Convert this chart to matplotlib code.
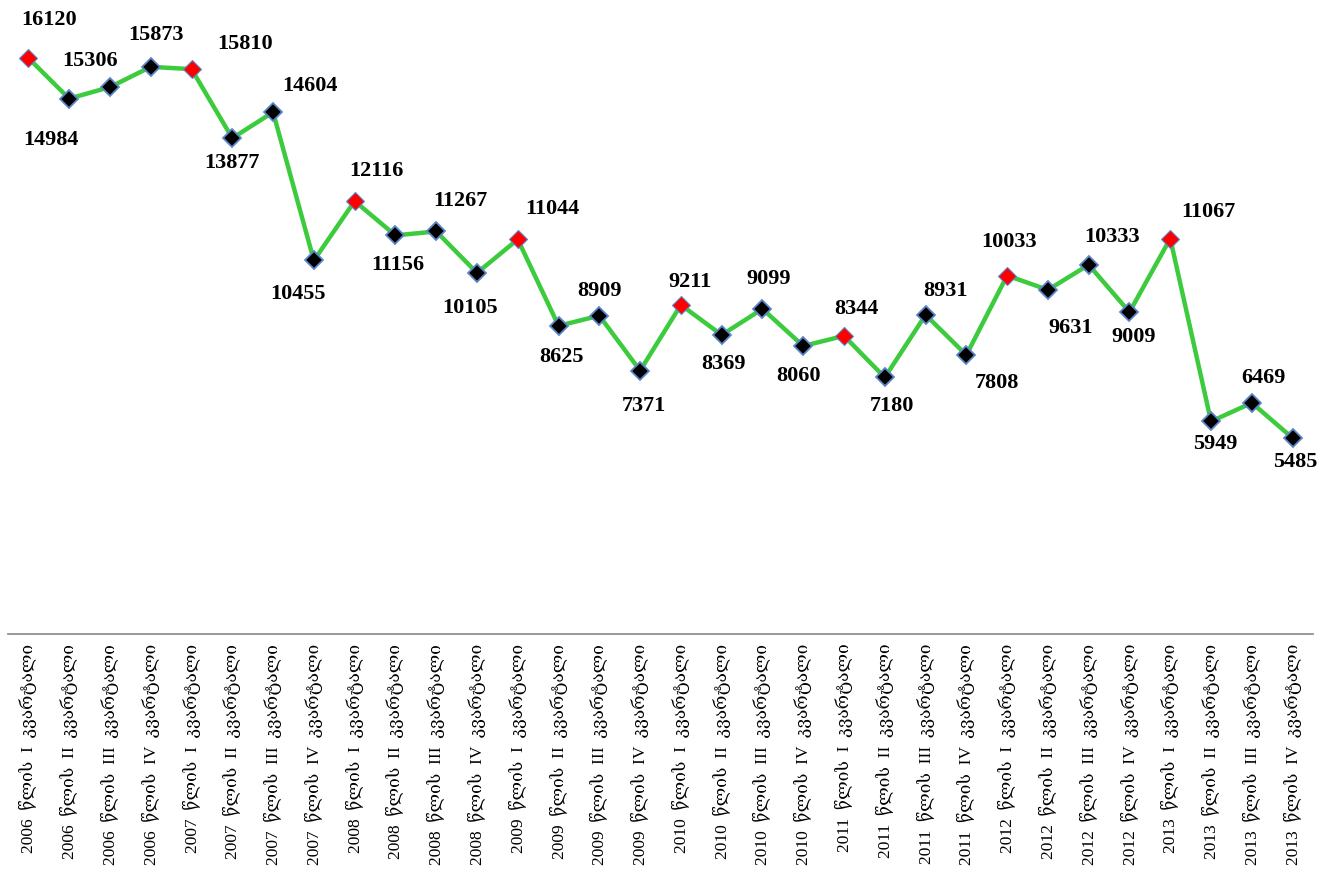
import matplotlib
matplotlib.use("Agg")
import matplotlib.pyplot as plt

years = ["2006", "2007", "2008", "2009", "2010", "2011", "2012", "2013"]
quarters = ["I", "II", "III", "IV"]
categories = [f"{y}  წლის  {q}  კვარტალი" for y in years for q in quarters]

values = [16120, 14984, 15306, 15873,
          15810, 13877, 14604, 10455,
          12116, 11156, 11267, 10105,
          11044, 8625, 8909, 7371,
          9211, 8369, 9099, 8060,
          8344, 7180, 8931, 7808,
          10033, 9631, 10333, 9009,
          11067, 5949, 6469, 5485]

# label offsets in pixels (style)
offsets = [(21, 38), (-18, -41), (-20, 26), (5, 32),
           (54, 25), (0, -25), (37, 26), (-16, -34),
           (22, 30), (2, -30), (24, 30), (-7, -35),
           (35, 30), (3, -31), (0, 25), (4, -35),
           (9, 23), (2, -29), (6, 30), (-5, -30),
           (12, 27), (7, -29), (20, 24), (31, -28),
           (2, 34), (23, -38), (23, 28), (4, -25),
           (38, 27), (4, -23), (12, 25), (3, -24)]

W, H = 1335, 875
fig = plt.figure(figsize=(W / 100, H / 100), dpi=100)
ax = fig.add_axes([8 / W, (H - 634) / H, 1305 / W, 634 / H])

x = list(range(len(values)))
ax.plot(x, values, color="#3CCB3C", lw=3.2, zorder=2, solid_joinstyle="miter")
for i, v in enumerate(values):
    is_q1 = (i % 4 == 0)
    ax.plot(i, v, marker="D", ms=9.5,
            mfc="#FF0000" if is_q1 else "#000000",
            mec="#5B86C8", mew=1.3 if not is_q1 else 0.8, zorder=3)
    dx, dy = offsets[i]
    ax.annotate(f"{v}", (i, v), xytext=(dx, dy), textcoords="offset pixels",
                ha="center", va="center", fontsize=16, fontweight="bold",
                family=["Liberation Serif", "DejaVu Serif"], color="#000000",
                annotation_clip=False)

ax.set_xlim(-0.5, len(values) - 0.5)
ax.set_ylim(0, 17744)
ax.set_yticks([])
ax.set_xticks(x)
ax.set_xticklabels(categories, rotation=90, va="top", ha="center",
                   fontsize=12.5, family=["Liberation Serif", "DejaVu Serif", "DejaVu Sans"])
ax.tick_params(axis="x", length=0, pad=7)
for s in ["top", "left", "right"]:
    ax.spines[s].set_visible(False)
ax.spines["bottom"].set_color("#868686")
ax.spines["bottom"].set_linewidth(1.2)
ax.patch.set_alpha(0)

fig.savefig("out.png", dpi=100)
